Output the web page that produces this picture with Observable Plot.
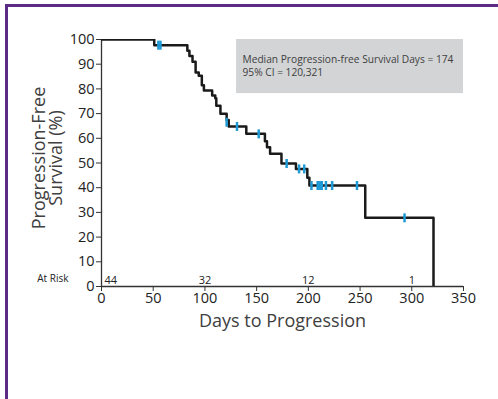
<!DOCTYPE html>
<html><head><meta charset="utf-8">
<script src="https://cdn.jsdelivr.net/npm/d3@7"></script>
<script src="https://cdn.jsdelivr.net/npm/@observablehq/plot@0.6"></script>
<style>
html,body{margin:0;padding:0;background:#fff;}
#wrap{position:relative;width:498px;height:399px;overflow:hidden;}
#chart{position:absolute;left:0;top:0;}
#frame{position:absolute;left:5px;top:4px;width:700px;height:700px;border-left:3px solid #5b2c86;border-top:3px solid #5b2c86;pointer-events:none;}
</style></head><body>
<div id="wrap"><div id="chart"></div><div id="frame"></div></div>
<script>
// Kaplan-Meier steps: time (days) and survival (%) after each event
const stepTimes = [0, 51, 83, 85, 88, 91, 94, 97, 99, 107, 110, 111, 115, 121, 123, 140, 158, 160, 163, 174, 188, 199, 201, 255, 321];
const stepSurv  = [100, 97.7, 95.4, 93.3, 91.0, 86.6, 85.3, 81.5, 79.4, 77.3, 76.2, 73.2, 69.9, 67.4, 64.8, 61.8, 58.8, 56.4, 53.7, 49.8, 47.6, 44.0, 40.9, 27.8, 0];
// Censored observations
const censorTimes = [55, 57, 121, 131, 152, 179, 191, 196, 203, 209, 210, 212, 213, 217, 223, 247, 293];
const censorSurv  = [97.7, 97.7, 66.5, 64.8, 61.8, 49.8, 47.6, 47.6, 40.9, 40.9, 40.9, 40.9, 40.9, 40.9, 40.9, 40.9, 27.8];
// Number at risk
const atRiskDays = [0, 100, 200, 300];
const atRiskCounts = [44, 32, 12, 1];
const xTicks = [0, 50, 100, 150, 200, 250, 300, 350];
const yTicks = [0, 10, 20, 30, 40, 50, 60, 70, 80, 90, 100];
const annotationLines = ["Median Progression-free Survival Days = 174", "95% CI = 120,321"];
const xLabel = "Days to Progression";
const yLabelLines = ["Progression-Free", "Survival (%)"];
const atRiskLabel = "At Risk";

const steps = stepTimes.map((t, i) => ({t, s: stepSurv[i]}));
const censors = censorTimes.map((t, i) => ({t, s: censorSurv[i]}));
const risk = atRiskDays.map((d, i) => ({d, n: String(atRiskCounts[i])}));
const tickSymbol = {draw(ctx) { ctx.rect(-1.25, -4.5, 2.5, 9); }};

const chart = Plot.plot({
  width: 498, height: 399,
  marginLeft: 101, marginRight: 35, marginTop: 39, marginBottom: 113,
  style: {fontFamily: '"Open Sans", "Noto Sans", sans-serif', fontSize: "14.5px", color: "#222", background: "transparent"},
  x: {domain: [0, 350]},
  y: {domain: [0, 100]},
  marks: [
    Plot.rect([{a: 130.6, b: 350, c: 78.1, d: 100}], {x1: "a", x2: "b", y1: "c", y2: "d", fill: "#d3d4d6"}),
    Plot.text([annotationLines[0]], {frameAnchor: "top-left", dx: 141, dy: 16, textAnchor: "start", lineAnchor: "top", fontSize: 10.2, fill: "#404040"}),
    Plot.text([annotationLines[1]], {frameAnchor: "top-left", dx: 141, dy: 29, textAnchor: "start", lineAnchor: "top", fontSize: 10.2, fill: "#404040"}),
    Plot.ruleX([0], {stroke: "#333", strokeWidth: 1.3}),
    Plot.ruleY([0], {stroke: "#333", strokeWidth: 1.3}),
    Plot.axisX({ticks: xTicks, tickSize: 5, tickPadding: 1, label: null, stroke: "#333", fontSize: 14.5}),
    Plot.axisY({ticks: yTicks, tickSize: 5, tickPadding: 2, label: null, stroke: "#333"}),
    Plot.text([xLabel], {frameAnchor: "bottom", dy: 40, fontSize: 18, fill: "#404040"}),
    Plot.text([yLabelLines[0]], {y: [50], frameAnchor: "left", textAnchor: "middle", dx: -62, dy: -5, rotate: -90, fontSize: 18, fill: "#404040"}),
    Plot.text([yLabelLines[1]], {y: [50], frameAnchor: "left", textAnchor: "middle", dx: -45, dy: -5, rotate: -90, fontSize: 18, fill: "#404040"}),
    Plot.text([atRiskLabel], {frameAnchor: "bottom-left", dx: -33, dy: -5, textAnchor: "end", fontSize: 10, fill: "#222"}),
    Plot.text(risk.filter(r => r.d === 0), {x: "d", frameAnchor: "bottom", text: "n", textAnchor: "start", dx: 3, dy: -3, fontSize: 11, fill: "#222"}),
    Plot.text(risk.filter(r => r.d > 0), {x: "d", frameAnchor: "bottom", text: "n", dy: -3, fontSize: 11, fill: "#222"}),
    Plot.line(steps, {x: "t", y: "s", curve: "step-after", stroke: "#1a1a1a", strokeWidth: 2.5, clip: true}),
    Plot.dot(censors, {x: "t", y: "s", symbol: tickSymbol, fill: "#1e9ad6", stroke: "none"})
  ]
});
document.getElementById("chart").appendChild(chart);
</script>
</body></html>
